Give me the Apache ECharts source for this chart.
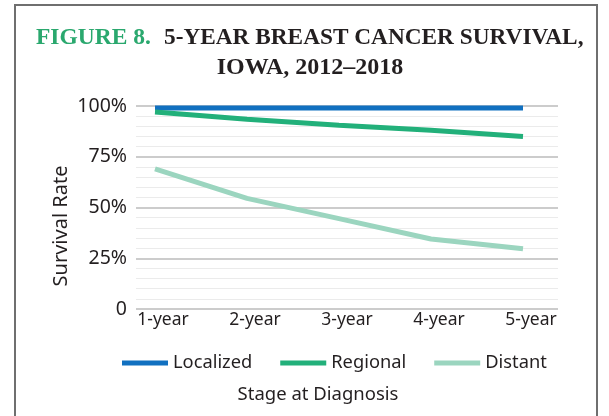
<!DOCTYPE html>
<html>
<head>
<meta charset="utf-8">
<script src="https://cdn.jsdelivr.net/npm/echarts@6/dist/echarts.min.js"></script>
<style>
  html, body { margin: 0; padding: 0; background: #fff; }
  #main { width: 609px; height: 416px; }
</style>
</head>
<body>
<div id="main"></div>
<script>
// data
const stages = ["1-year", "2-year", "3-year", "4-year", "5-year"];
const localized = [99, 99, 99, 99, 99];
const regional = [97, 93.5, 90.5, 88, 85];
const distant = [69, 54.5, 44.5, 34.5, 29.7];

const txt = "#231f20";
const labelFont = "Noto Sans";

const chart = echarts.init(document.getElementById("main"));

function lineSeries(name, data, color) {
  return {
    name: name,
    type: "line",
    xAxisIndex: 1,
    yAxisIndex: 1,
    data: data,
    symbol: "none",
    lineStyle: { color: color, width: 5, cap: "butt" },
    itemStyle: { color: color },
  };
}

chart.setOption({
  animation: false,
  backgroundColor: "#fff",
  grid: [
    // background grid: gridlines + y labels
    { left: 136, right: 51, top: 106, height: 203 },
    // plotting grid: points sit at 155..523
    { left: 155, right: 86, top: 106, height: 203 },
  ],
  xAxis: [
    { gridIndex: 0, type: "value", show: false, min: 0, max: 1 },
    {
      gridIndex: 1,
      type: "category",
      data: stages,
      boundaryGap: false,
      axisLine: { show: false },
      axisTick: { show: false },
      splitLine: { show: false },
      axisLabel: {
        color: txt,
        fontFamily: labelFont,
        fontSize: 17.5,
        margin: 2,
        padding: [0, 0, 0, 16],
      },
    },
  ],
  yAxis: [
    {
      gridIndex: 0,
      type: "value",
      min: 0,
      max: 100,
      interval: 25,
      axisLine: { show: false },
      axisTick: { show: false },
      axisLabel: {
        color: txt,
        fontFamily: labelFont,
        fontSize: 19.5,
        margin: 9,
        formatter: (v) => (v === 0 ? "0" : v + "%"),
      },
      splitLine: { show: true, lineStyle: { color: "#cccccc", width: 2 } },
      minorTick: { show: false, splitNumber: 5 },
      minorSplitLine: { show: true, lineStyle: { color: "#ebebeb", width: 1 } },
    },
    { gridIndex: 1, type: "value", min: 0, max: 100, show: false },
  ],
  legend: {
    left: 117,
    top: 349,
    icon: "rect",
    itemWidth: 46,
    itemHeight: 5,
    itemGap: 28,
    textStyle: { color: txt, fontFamily: labelFont, fontSize: 18.3 },
    data: ["Localized", "Regional", "Distant"],
  },
  graphic: [
    {
      type: "rect",
      shape: { x: 15, y: 5, width: 582, height: 440 },
      style: { fill: "none", stroke: "#6f6f6f", lineWidth: 2 },
      silent: true,
    },
    {
      type: "text",
      x: 36,
      y: 38,
      style: {
        text: "FIGURE 8.",
        fill: "#2aa86e",
        font: "bold 23.5px 'Liberation Serif'",
        textAlign: "left",
        textVerticalAlign: "middle",
      },
    },
    {
      type: "text",
      x: 164,
      y: 38,
      style: {
        text: "5-YEAR BREAST CANCER SURVIVAL,",
        fill: txt,
        font: "bold 23.3px 'Liberation Serif'",
        textAlign: "left",
        textVerticalAlign: "middle",
      },
    },
    {
      type: "text",
      x: 310,
      y: 68,
      style: {
        text: "IOWA, 2012\u20132018",
        fill: txt,
        font: "bold 24px 'Liberation Serif'",
        textAlign: "center",
        textVerticalAlign: "middle",
      },
    },
    {
      type: "text",
      x: 61,
      y: 226,
      rotation: Math.PI / 2,
      style: {
        text: "Survival Rate",
        fill: txt,
        font: "20px 'Noto Sans'",
        textAlign: "center",
        textVerticalAlign: "middle",
      },
    },
    {
      type: "text",
      x: 318,
      y: 395,
      style: {
        text: "Stage at Diagnosis",
        fill: txt,
        font: "18.5px 'Noto Sans'",
        textAlign: "center",
        textVerticalAlign: "middle",
      },
    },
  ],
  series: [
    lineSeries("Localized", localized, "#1170c0"),
    lineSeries("Regional", regional, "#22b07a"),
    lineSeries("Distant", distant, "#9bd5bf"),
  ],
});
</script>
</body>
</html>
